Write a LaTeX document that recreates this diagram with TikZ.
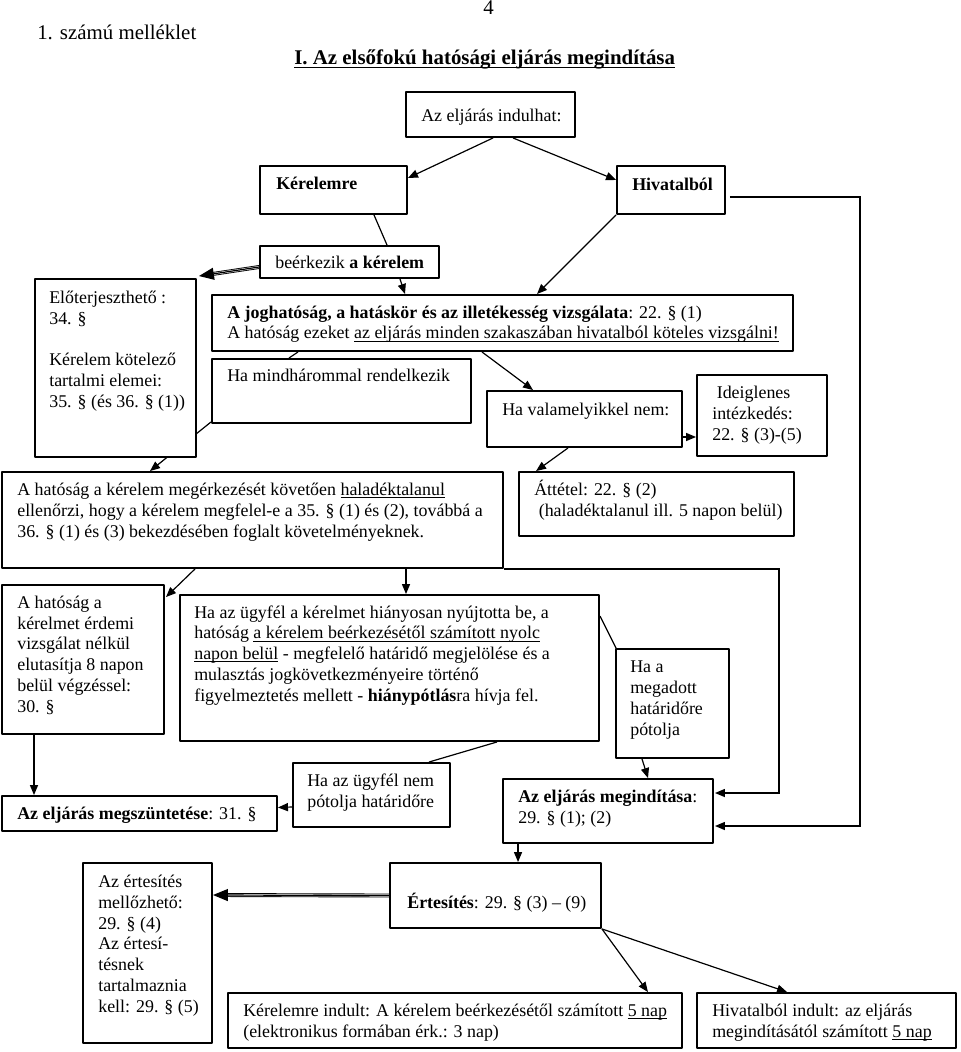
\documentclass[tikz,border=0pt]{standalone}
\usepackage{fontspec}
\setmainfont{Liberation Serif}
\newcommand\undl[1]{\underline{\smash{#1}}}
\usetikzlibrary{arrows.meta,fit,backgrounds}
\begin{document}
\begin{tikzpicture}[x=0.67pt, y=-0.67pt, line join=round, line cap=round,
	font=\fontsize{12}{13.9}\selectfont,
	box/.style={draw, line width=1.3pt, fill=white, inner sep=0pt},
	txt/.style={anchor=base west, inner sep=0pt, align=left},
	con/.style={line width=0.8pt},
	>={Triangle[length=6.7pt,width=5.4pt]},
	dbl/.style={double, double distance=1.4pt, line width=0.6pt, shorten >=8pt},
	dbltip/.style={line width=0.8pt, -{Triangle[length=10pt,width=8pt]}}]
	\useasboundingbox (0,0) rectangle (960,1052);
	%% Fejlec
	\node[txt, font=\fontsize{14}{16}\selectfont] (t-oldal) at (483,15) {4};
	\node[txt, font=\fontsize{14}{16}\selectfont] (t-mell) at (37,40) {1. számú melléklet};
	\node[txt, font=\fontsize{14}{16}\selectfont\bfseries] (t-cim) at (294,65) {\undl{I. Az elsőfokú hatósági eljárás megindítása}};
	%% Keretek
	\foreach \n/\xa/\ya/\xb/\yb in {indulhat/406/92/575/137, kerelemre/260/166/407/214,
		hivatalbol/617/166/725/214, beerkezik/260/246/439/278, eloterj/35/279/196/457,
		joghat/212/295/793/351, mindharom/212/359/471/423, valamelyik/487/391/682/447,
		ideiglenes/697/375/827/456, hatosag/2/472/503/568, attetel/519/472/794/536,
		erdemi/2/585/164/734, hianyos/180/595/599/741, megadott/616/649/729/758,
		megind/503/779/713/843, nempotolja/293/763/450/827, megszunt/2/796/277/831,
		ertesites/390/863/601/928, mellozheto/83/863/212/1043, kerindult/228/993/682/1048,
		hivindult/697/993/956/1048}
	\node[box, fit={(\xa,\ya) (\xb,\yb)}] (\n) {};
	%% Szovegek (tobbsoros: az utolso sor alapvonala)
	\node[txt] (t-indul) at (421,122) {Az eljárás indulhat:};
	\node[txt] (t-kerel) at (276,190) {\textbf{Kérelemre}};
	\node[txt] (t-hiv) at (632,191) {\textbf{Hivatalból}};
	\node[txt] (t-beerk) at (275,269) {beérkezik \textbf{a kérelem}};
	\node[txt] (t-elo) at (49,407) {Előterjeszthető :\\34. §\\[13.9pt]Kérelem kötelező\\tartalmi elemei:\\35. § (és 36. § (1))};
	\node[txt] (t-jog) at (227,339) {\textbf{A joghatóság, a hatáskör és az illetékesség vizsgálata}: 22. § (1)\\A hatóság ezeket \undl{az eljárás minden szakaszában hivatalból köteles vizsgálni!}};
	\node[txt] (t-mind) at (227,382) {Ha mindhárommal rendelkezik};
	\node[txt] (t-vala) at (502,415) {Ha valamelyikkel nem:};
	\node[txt] (t-ideig) at (712,440) {~Ideiglenes\\intézkedés:\\22. § (3)-(5)};
	\node[txt] (t-hatos) at (17,537) {A hatóság a kérelem megérkezését követően \undl{haladéktalanul}\\ellenőrzi, hogy a kérelem megfelel-e a 35. § (1) és (2), továbbá a\\36. § (1) és (3) bekezdésében foglalt követelményeknek.};
	\node[txt] (t-attet) at (534,516) {Áttétel: 22. § (2)\\~(haladéktalanul ill. 5 napon belül)};
	\node[txt] (t-erdemi) at (17,712) {A hatóság a\\kérelmet érdemi\\vizsgálat nélkül\\elutasítja 8 napon\\belül végzéssel:\\30. §};
	\node[txt] (t-hiany) at (194,701) {Ha az ügyfél a kérelmet hiányosan nyújtotta be, a\\hatóság \undl{a kérelem beérkezésétől számított nyolc}\\\undl{napon belül} - megfelelő határidő megjelölése és a\\mulasztás jogkövetkezményeire történő\\figyelmeztetés mellett - \textbf{hiánypótlás}ra hívja fel.};
	\node[txt] (t-megad) at (630,735) {Ha a\\megadott\\határidőre\\pótolja};
	\node[txt] (t-megsz) at (17,819) {\textbf{Az eljárás megszüntetése}: 31. §};
	\node[txt] (t-nempot) at (307,807) {Ha az ügyfél nem\\pótolja határidőre};
	\node[txt] (t-megind) at (518,823) {\textbf{Az eljárás megindítása}:\\29. § (1); (2)};
	\node[txt] (t-mellozh) at (98,1012) {Az értesítés\\mellőzhető:\\29. § (4)\\Az értesí-\\tésnek\\tartalmaznia\\kell: 29. § (5)};
	\node[txt] (t-ertes) at (407,908) {\textbf{Értesítés}: 29. § (3) – (9)};
	\node[txt] (t-kerind) at (243,1037) {Kérelemre indult: A kérelem beérkezésétől számított \undl{5 nap}\\(elektronikus formában érk.: 3 nap)};
	\node[txt] (t-hivind) at (712,1037) {Hivatalból indult: az eljárás\\megindításától számított \undl{5 nap}};
	%% Nyilak
	\begin{scope}[on background layer]
		\fill[white] (0,0) rectangle (960,1052);
		\draw[con,->] ([shift={(2.5,0)}]indulhat.south) -- ([shift={(0,-12)}]kerelemre.east);
		\draw[con,->] ([shift={(22.5,0)}]indulhat.south) -- ([shift={(0,-10)}]hivatalbol.west);
		\draw[con] ([shift={(40.5,0)}]kerelemre.south) -- ([shift={(37.5,0)}]beerkezik.north);
		\draw[dbl] ([shift={(0,5)}]beerkezik.west) -- ([shift={(2,-2)}]eloterj.north east);
		\draw[dbltip] ([shift={(0,5)}]beerkezik.west) -- ([shift={(2,-2)}]eloterj.north east);
		\draw[con,->] ([shift={(50.5,0)}]beerkezik.south) -- ([shift={(-97.5,0)}]joghat.north);
		\draw[con,->] (hivatalbol.south west) -- ([shift={(34.5,0)}]joghat.north);
		\draw[con] ([shift={(-204.5,0)}]joghat.south) -- ([shift={(-52.5,0)}]mindharom.north);
		\draw[con,->] ([shift={(-20.5,0)}]joghat.south) -- ([shift={(-51.5,0)}]valamelyik.north);
		\draw[con,->] ([shift={(0,18)}]valamelyik.east) -- ([shift={(0,21.5)}]ideiglenes.west);
		\draw[con,->] ([shift={(0,-2)}]mindharom.south west) -- ([shift={(-102.5,0)}]hatosag.north);
		\draw[con,->] ([shift={(-16.5,0)}]valamelyik.south) -- ([shift={(18,0)}]attetel.north west);
		\draw[con,->] ([shift={(4,7)}]hivatalbol.east) -- ++(130,0) |- ([shift={(1,15)}]megind.east);
		\draw[con,->] (hatosag.south east) -- ++(275,0) |- ([shift={(1,-18)}]megind.east);
		\draw[con,->] ([shift={(-57.5,0)}]hatosag.south) -- ([shift={(1,13)}]erdemi.north east);
		\draw[con,->] ([shift={(153.5,0)}]hatosag.south) -- ([shift={(16.5,0)}]hianyos.north);
		\draw[con,->] ([shift={(-49,0)}]erdemi.south) -- ([shift={(-105.5,0)}]megszunt.north);
		\draw[con] ([shift={(0,22)}]hianyos.north east) -- ([shift={(1,0)}]megadott.north west);
		\draw[con,->] ([shift={(-30.5,0)}]megadott.south) -- ([shift={(40,0)}]megind.north);
		\draw[con] ([shift={(107.5,0)}]hianyos.south) -- ([shift={(-22,0)}]nempotolja.north east);
		\draw[con,->] ([shift={(0,12)}]nempotolja.west) -- ([shift={(0,-6)}]megszunt.east);
		\draw[con,->] ([shift={(16,0)}]megind.south west) -- ([shift={(129,0)}]ertesites.north west);
		\draw[dbl] (ertesites.west) -- ([shift={(0,-58)}]mellozheto.east);
		\draw[dbltip] (ertesites.west) -- ([shift={(0,-58)}]mellozheto.east);
		\draw[con,->] (ertesites.south east) -- ([shift={(-35,0)}]kerindult.north east);
		\draw[con,->] (ertesites.south east) -- ([shift={(91,0)}]hivindult.north west);
	\end{scope}
\end{tikzpicture}
\end{document}
